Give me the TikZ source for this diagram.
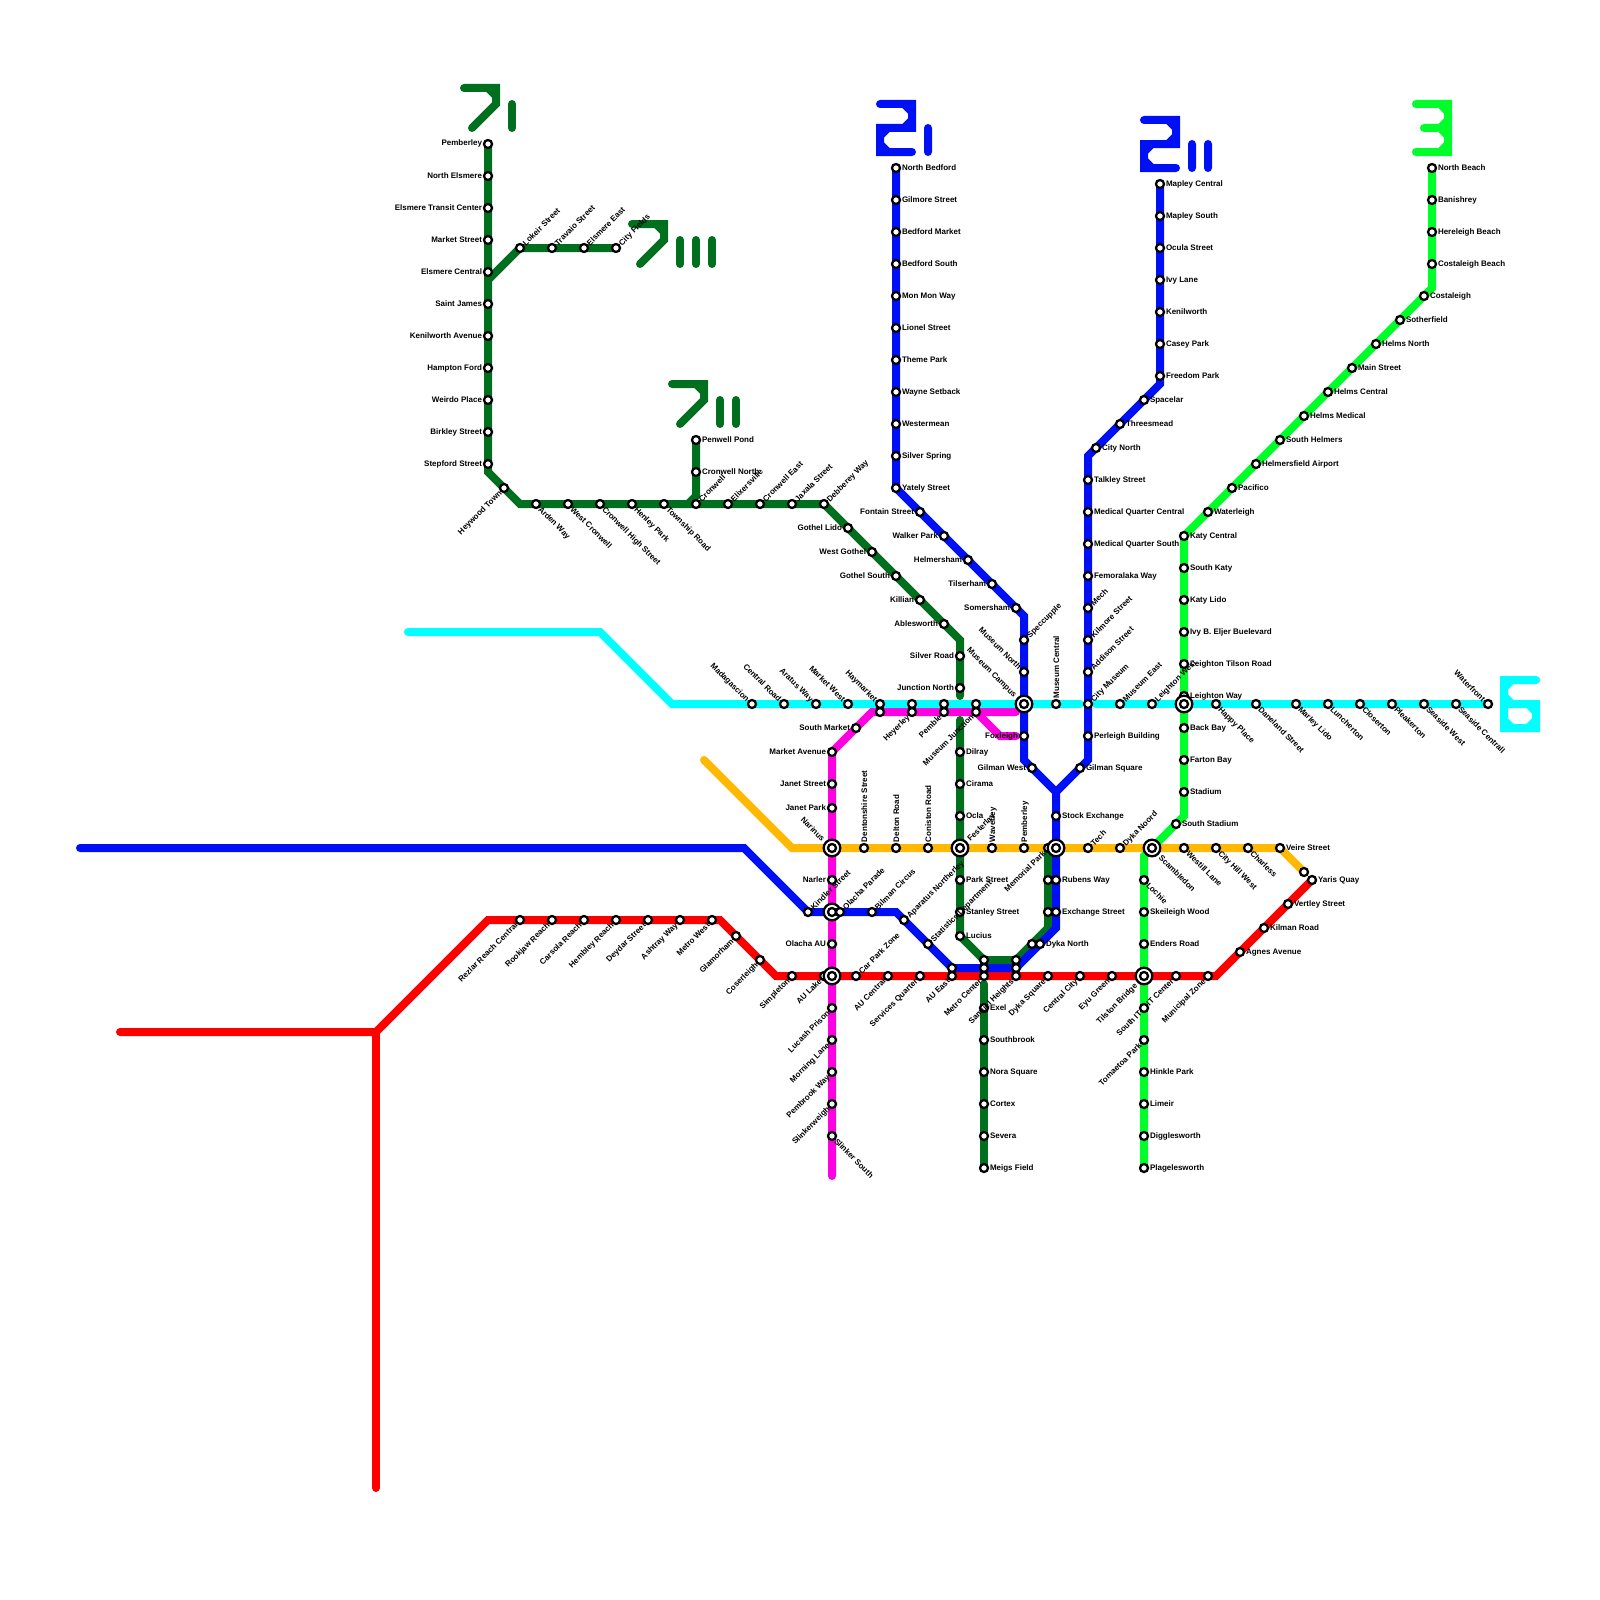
\documentclass[tikz,border=0pt]{standalone}
\usepackage{fontspec}
\setmainfont{Liberation Sans}
\pgfdeclarelayer{lines}
\pgfdeclarelayer{stations}
\pgfsetlayers{lines,stations,main}
\definecolor{cDG}{HTML}{00701F}
\definecolor{cBL}{HTML}{0010F5}
\definecolor{cBG}{HTML}{00FF2A}
\definecolor{cCY}{HTML}{00FFFF}
\definecolor{cMG}{HTML}{FF00E1}
\definecolor{cOR}{HTML}{FFB900}
\definecolor{cRD}{HTML}{FF0000}
\tikzset{
 stn/.style={circle,draw=black,fill=white,line width=2.3pt,minimum size=8pt,inner sep=0pt,outer sep=0pt},
 ring/.style={circle,draw=black,fill=white,line width=2.3pt,minimum size=16.6pt,inner sep=0pt,outer sep=0pt},
 lab/.style={inner sep=0pt,outer sep=0pt,text height=6pt,text depth=0pt,font=\fontsize{8}{9}\selectfont\bfseries,text=black},
 labR/.style={anchor=west,xshift=6pt,yshift=1pt},
 labL/.style={anchor=east,xshift=-6pt,yshift=1pt},
 labU/.style={rotate=90,anchor=west,xshift=6pt},
 labUR/.style={rotate=45,anchor=west,xshift=5.5pt},
 labUL/.style={rotate=-45,anchor=east,xshift=-5.5pt},
 labDL/.style={rotate=45,anchor=east,xshift=-5.5pt},
 labDR/.style={rotate=-45,anchor=west,xshift=5.5pt},
 route/.style={line width=8pt,line cap=round,line join=miter},
}
\newcommand\st[5]{\begin{pgfonlayer}{stations}\node[stn] (#2) at (#3,#4) {};\end{pgfonlayer}\node[lab,#1] (#2t) at (#3,#4) {#5};}
\newcommand\sn[3]{\begin{pgfonlayer}{stations}\node[stn] (#1) at (#2,#3) {};\end{pgfonlayer}}
\newcommand\ic[3]{\begin{pgfonlayer}{stations}\node[ring] (#1r) at (#2,#3) {};\node[stn] (#1) at (#2,#3) {};\end{pgfonlayer}}
\newcommand\icl[5]{\begin{pgfonlayer}{stations}\node[ring] (#2r) at (#3,#4) {};\node[stn] (#2) at (#3,#4) {};\end{pgfonlayer}\node[lab,#1] (#2t) at (#3,#4) {#5};}
\newcommand\seven[3]{\draw[route,cDG,shift={(#1,#2)}] (0,0)--(32,0)--(32,16)--(8,40) (24,0)--(32,8);
 \foreach \k in {1,...,#3}{\draw[route,cDG,shift={(#1,#2)}] (32+16*\k,16)--(32+16*\k,40);}}
\begin{document}
\begin{tikzpicture}[x=1pt,y=-1pt]
\useasboundingbox (0,0) rectangle (1600,1600);
%-- dark green 7
\st{labL}{a1}{488}{144}{Pemberley}
\st{labL}{a2}{488}{176}{North Elsmere}
\st{labL}{a3}{488}{208}{Elsmere Transit Center}
\st{labL}{a4}{488}{240}{Market Street}
\st{labL}{a5}{488}{272}{Elsmere Central}
\st{labL}{a6}{488}{304}{Saint James}
\st{labL}{a7}{488}{336}{Kenilworth Avenue}
\st{labL}{a8}{488}{368}{Hampton Ford}
\st{labL}{a9}{488}{400}{Weirdo Place}
\st{labL}{a10}{488}{432}{Birkley Street}
\st{labL}{a11}{488}{464}{Stepford Street}
\st{labUR}{b1}{520}{248}{Lokeir Street}
\st{labUR}{b2}{552}{248}{Travaio Street}
\st{labUR}{b3}{584}{248}{Elsmere East}
\st{labUR}{b4}{616}{248}{City Fields}
\st{labDL}{a12}{504}{488}{Heywood Town}
\st{labDR}{a13}{536}{504}{Arden Way}
\st{labDR}{a14}{568}{504}{West Cronwell}
\st{labDR}{a15}{600}{504}{Cronwell High Street}
\st{labDR}{a16}{632}{504}{Henley Park}
\st{labDR}{a17}{664}{504}{Township Road}
\st{labUR}{a18}{696}{504}{Cronwell}
\st{labUR}{a19}{728}{504}{Elixersville}
\st{labUR}{a20}{760}{504}{Cronwell East}
\st{labUR}{a21}{792}{504}{Jaxala Street}
\st{labUR}{a22}{824}{504}{Debberey Way}
\st{labR}{c1}{696}{440}{Penwell Pond}
\st{labR}{c2}{696}{472}{Cronwell North}
\st{labL}{a23}{848}{528}{Gothel Lido}
\st{labL}{a24}{872}{552}{West Gothel}
\st{labL}{a25}{896}{576}{Gothel South}
\st{labL}{a26}{920}{600}{Killian}
\st{labL}{a27}{944}{624}{Ablesworth}
\st{labL}{a28}{960}{656}{Silver Road}
\st{labL}{a29}{960}{688}{Junction North}
\st{labR}{d1}{960}{752}{Dilray}
\st{labR}{d2}{960}{784}{Cirama}
\st{labR}{d3}{960}{816}{Ocla}
\st{labR}{d4}{960}{880}{Park Street}
\st{labR}{d5}{960}{912}{Stanley Street}
\st{labR}{d6}{960}{936}{Lucius}
\sn{d7}{1048}{880}
\sn{d8}{1048}{912}
\sn{d9}{1032}{944}
\sn{d10}{1048}{848}
\st{labR}{e1}{984}{1008}{Exel}
\st{labR}{e2}{984}{1040}{Southbrook}
\st{labR}{e3}{984}{1072}{Nora Square}
\st{labR}{e4}{984}{1104}{Cortex}
\st{labR}{e5}{984}{1136}{Severa}
\st{labR}{e6}{984}{1168}{Meigs Field}
%-- blue 2i
\st{labR}{f1}{896}{168}{North Bedford}
\st{labR}{f2}{896}{200}{Gilmore Street}
\st{labR}{f3}{896}{232}{Bedford Market}
\st{labR}{f4}{896}{264}{Bedford South}
\st{labR}{f5}{896}{296}{Mon Mon Way}
\st{labR}{f6}{896}{328}{Lionel Street}
\st{labR}{f7}{896}{360}{Theme Park}
\st{labR}{f8}{896}{392}{Wayne Setback}
\st{labR}{f9}{896}{424}{Westermean}
\st{labR}{f10}{896}{456}{Silver Spring}
\st{labR}{f11}{896}{488}{Yately Street}
\st{labL}{f12}{920}{512}{Fontain Street}
\st{labL}{f13}{944}{536}{Walker Park}
\st{labL}{f14}{968}{560}{Helmersham}
\st{labL}{f15}{992}{584}{Tilserham}
\st{labL}{f16}{1016}{608}{Somersham}
\st{labUR}{f17}{1024}{640}{Speccupple}
\st{labUL}{f18}{1024}{672}{Museum North}
\st{labL}{f19}{1024}{736}{Foxleigh}
\st{labL}{f20}{1032}{768}{Gilman West}
\st{labR}{f21}{1056}{816}{Stock Exchange}
\st{labR}{f22}{1056}{880}{Rubens Way}
\st{labR}{f23}{1056}{912}{Exchange Street}
\st{labR}{f24}{1040}{944}{Dyka North}
%-- blue 2ii
\st{labR}{g1}{1160}{184}{Mapley Central}
\st{labR}{g2}{1160}{216}{Mapley South}
\st{labR}{g3}{1160}{248}{Ocula Street}
\st{labR}{g4}{1160}{280}{Ivy Lane}
\st{labR}{g5}{1160}{312}{Kenilworth}
\st{labR}{g6}{1160}{344}{Casey Park}
\st{labR}{g7}{1160}{376}{Freedom Park}
\st{labR}{g8}{1144}{400}{Spacelar}
\st{labR}{g9}{1120}{424}{Threesmead}
\st{labR}{g10}{1096}{448}{City North}
\st{labR}{g11}{1088}{480}{Talkley Street}
\st{labR}{g12}{1088}{512}{Medical Quarter Central}
\st{labR}{g13}{1088}{544}{Medical Quarter South}
\st{labR}{g14}{1088}{576}{Femoralaka Way}
\st{labUR}{g15}{1088}{608}{Mech}
\st{labUR}{g16}{1088}{640}{Kilmore Street}
\st{labUR}{g17}{1088}{672}{Addison Street}
\st{labUR}{g18}{1088}{704}{City Museum}
\st{labR}{g19}{1088}{736}{Perleigh Building}
\st{labR}{g20}{1080}{768}{Gilman Square}
%-- blue west
\st{labUR}{h1}{808}{912}{Kindler Street}
\st{labUR}{h3}{872}{912}{Bilman Circus}
\st{labUR}{h4}{904}{920}{Aparatus Northerley}
\st{labUR}{h5}{928}{944}{Statistics Department}
\sn{h6}{952}{968}
\sn{h7}{984}{968}
\sn{h8}{1016}{968}
\sn{h9}{984}{960}
\sn{h10}{1016}{960}
%-- bright green
\st{labR}{k1}{1432}{168}{North Beach}
\st{labR}{k2}{1432}{200}{Banishrey}
\st{labR}{k3}{1432}{232}{Hereleigh Beach}
\st{labR}{k4}{1432}{264}{Costaleigh Beach}
\st{labR}{k5}{1424}{296}{Costaleigh}
\st{labR}{k6}{1400}{320}{Sotherfield}
\st{labR}{k7}{1376}{344}{Helms North}
\st{labR}{k8}{1352}{368}{Main Street}
\st{labR}{k9}{1328}{392}{Helms Central}
\st{labR}{k10}{1304}{416}{Helms Medical}
\st{labR}{k11}{1280}{440}{South Helmers}
\st{labR}{k12}{1256}{464}{Helmersfield Airport}
\st{labR}{k13}{1232}{488}{Pacifico}
\st{labR}{k14}{1208}{512}{Waterleigh}
\st{labR}{k15}{1184}{536}{Katy Central}
\st{labR}{k16}{1184}{568}{South Katy}
\st{labR}{k17}{1184}{600}{Katy Lido}
\st{labR}{k18}{1184}{632}{Ivy B. Eljer Buelevard}
\st{labR}{k19}{1184}{664}{Leighton Tilson Road}
\st{labR}{k20}{1184}{696}{Leighton Way}
\st{labR}{k21}{1184}{728}{Back Bay}
\st{labR}{k22}{1184}{760}{Farton Bay}
\st{labR}{k23}{1184}{792}{Stadium}
\st{labR}{k24}{1176}{824}{South Stadium}
\st{labDR}{k25}{1144}{880}{Lochie}
\st{labR}{k26}{1144}{912}{Skeileigh Wood}
\st{labR}{k27}{1144}{944}{Enders Road}
\st{labDL}{k28}{1144}{1008}{South IT}
\st{labDL}{k29}{1144}{1040}{Tomaetoa Park}
\st{labR}{k30}{1144}{1072}{Hinkle Park}
\st{labR}{k31}{1144}{1104}{Limeir}
\st{labR}{k32}{1144}{1136}{Digglesworth}
\st{labR}{k33}{1144}{1168}{Plagelesworth}
%-- cyan
\st{labUL}{m1}{752}{704}{Madagascion}
\st{labUL}{m2}{784}{704}{Central Road}
\st{labUL}{m3}{816}{704}{Aratus Way}
\st{labUL}{m4}{848}{704}{Market West}
\st{labUL}{m5}{880}{704}{Haymarket}
\sn{m6}{912}{704}
\sn{m7}{944}{704}
\sn{m8}{976}{704}
\st{labU}{m9}{1056}{704}{Museum Central}
\st{labUR}{m10}{1120}{704}{Museum East}
\st{labUR}{m11}{1152}{704}{Leighton West}
\st{labDR}{m12}{1216}{704}{Happy Place}
\st{labDR}{m13}{1256}{704}{Daneland Street}
\st{labDR}{m14}{1296}{704}{Marley Lido}
\st{labDR}{m15}{1328}{704}{Luncherton}
\st{labDR}{m16}{1360}{704}{Closerton}
\st{labDR}{m17}{1392}{704}{Pleakerton}
\st{labDR}{m18}{1424}{704}{Seaside West}
\st{labDR}{m19}{1456}{704}{Seaside Centrall}
\st{labUL}{m20}{1488}{704}{Waterfront}
%-- magenta
\sn{n1}{880}{712}
\st{labDL}{n2}{912}{712}{Heyerley}
\st{labDL}{n3}{944}{712}{Pemble}
\st{labDL}{n4}{976}{712}{Museum Junction}
\st{labL}{n5}{856}{728}{South Market}
\st{labL}{n6}{832}{752}{Market Avenue}
\st{labL}{n7}{832}{784}{Janet Street}
\st{labL}{n8}{832}{808}{Janet Park}
\st{labL}{n9}{832}{880}{Narler}
\st{labL}{n10}{832}{944}{Olacha AU}
\st{labDL}{n11}{832}{1008}{Lucash Prison}
\st{labDL}{n12}{832}{1040}{Morning Lane}
\st{labDL}{n13}{832}{1072}{Pembrook Way}
\st{labDL}{n14}{832}{1104}{Slinkerweigh}
\st{labDR}{n15}{832}{1136}{Slinker South}
%-- orange
\st{labU}{o1}{864}{848}{Dentonshire Street}
\st{labU}{o2}{896}{848}{Delton Road}
\st{labU}{o3}{928}{848}{Coniston Road}
\st{labU}{o4}{992}{848}{Waverley}
\st{labU}{o5}{1024}{848}{Pemberley}
\st{labUR}{o6}{1088}{848}{Tech}
\st{labUR}{o7}{1120}{848}{Dyka Noord}
\st{labDR}{o8}{1184}{848}{Westill Lane}
\st{labDR}{o9}{1216}{848}{City Hill West}
\st{labDR}{o10}{1248}{848}{Charless}
\st{labR}{o11}{1280}{848}{Veire Street}
\sn{o12}{1304}{872}
%-- red
\st{labDL}{r1}{520}{920}{Rezlar Reach Central}
\st{labDL}{r2}{552}{920}{Rookjaw Reach}
\st{labDL}{r3}{584}{920}{Carsola Reach}
\st{labDL}{r4}{616}{920}{Hembley Reach}
\st{labDL}{r5}{648}{920}{Deydar Street}
\st{labDL}{r6}{680}{920}{Ashtray Way}
\st{labDL}{r7}{712}{920}{Metro West}
\st{labDL}{r8}{736}{936}{Glamorham}
\st{labDL}{r9}{760}{960}{Coserleigh}
\st{labDL}{r10}{792}{976}{Simpleton}
\st{labDL}{r11}{824}{976}{AU Lake}
\st{labDL}{r13}{888}{976}{AU Central}
\st{labDL}{r14}{920}{976}{Services Quarter}
\st{labDL}{r15}{952}{976}{AU East}
\st{labDL}{r16}{984}{976}{Metro Center}
\st{labDL}{r17}{1016}{976}{Samuel Heights}
\st{labDL}{r18}{1048}{976}{Dyka Square}
\st{labDL}{r19}{1080}{976}{Central City}
\st{labDL}{r20}{1112}{976}{Eyu Green}
\st{labDL}{r21}{1176}{976}{IT Center}
\st{labDL}{r22}{1208}{976}{Municipal Zone}
\st{labR}{r23}{1240}{952}{Agnes Avenue}
\st{labR}{r24}{1264}{928}{Kilman Road}
\st{labR}{r25}{1288}{904}{Vertley Street}
\st{labR}{r26}{1312}{880}{Yaris Quay}
%-- interchanges
\icl{labUL,xshift=-6.5pt}{x1}{1024}{704}{Museum Campus}
\icl{labDR,xshift=6.5pt}{x2}{1152}{848}{Scambledon}
\ic{x3}{1184}{704}
\icl{labUL,xshift=-6.5pt}{x4}{832}{848}{Narinus}
\icl{labUR,xshift=6.5pt}{x5}{960}{848}{Festerlay}
\ic{x6}{1056}{848}
\ic{x7}{832}{912}
\ic{x8}{832}{976}
\icl{labDL,xshift=-6.5pt}{x9}{1144}{976}{Tilston Bridge}
\st{labUR}{h2}{840}{912}{Olacha Parade}
\st{labUR}{r12}{856}{976}{Car Park Zone}
\node[lab,labDL] (d10t) at (d10) {Memorial Park};
%-- routes
\coordinate (p1) at (520,504); \coordinate (p2) at (488,472); \coordinate (p3) at (960,640);
\coordinate (p4) at (960,696); \coordinate (p5) at (488,280); \coordinate (p6) at (696,496);
\coordinate (p7) at (688,504); \coordinate (p8) at (960,720); \coordinate (p9) at (984,960);
\coordinate (p10) at (1016,960); \coordinate (p11) at (1048,928); \coordinate (p12) at (984,984);
\coordinate (q1) at (1024,616); \coordinate (q2) at (1024,760); \coordinate (q3) at (1056,792);
\coordinate (q4) at (1056,928); \coordinate (q5) at (1016,968); \coordinate (q6) at (1160,384);
\coordinate (q7) at (1088,456); \coordinate (q8) at (1088,760); \coordinate (q9) at (80,848);
\coordinate (q10) at (744,848); \coordinate (q11) at (896,912); \coordinate (q12) at (952,968);
\coordinate (u1) at (1432,288); \coordinate (u2) at (1184,816); \coordinate (u3) at (1144,856);
\coordinate (v1) at (408,632); \coordinate (v2) at (600,632); \coordinate (v3) at (672,704);
\coordinate (v4) at (1080,704); \coordinate (v5) at (1096,704);
\coordinate (w1) at (1016,712); \coordinate (w2) at (872,712); \coordinate (w3) at (832,752);
\coordinate (w4) at (832,1176); \coordinate (w5) at (1000,736); \coordinate (w6) at (1016,736);
\coordinate (y1) at (704,760); \coordinate (y2) at (792,848);
\coordinate (z1) at (120,1032); \coordinate (z2) at (376,1032); \coordinate (z3) at (488,920);
\coordinate (z4) at (720,920); \coordinate (z5) at (776,976); \coordinate (z6) at (1216,976);
\coordinate (z7) at (376,1488);
\begin{pgfonlayer}{lines}
\fill[white] (0,0) rectangle (1600,1600);
\draw[route,cOR] (y1)--(y2)--(o11.center)--(o12.center);
\draw[route,cRD] (z1)--(z2)--(z3)--(z4)--(z5)--(z6)--(r26.center);
\draw[route,cRD] (z2)--(z7);
\draw[route,cMG] (w1)--(w2)--(w3)--(w4);
\draw[route,cMG] (n4.center)--(w5)--(w6);
\draw[route,cBG] (k1.center)--(u1)--(k15.center)--(u2)--(u3)--(k33.center);
\draw[route,cCY] (v1)--(v2)--(v3)--(v4);
\draw[route,cCY] (v5)--(m20.center);
\draw[route,cDG] (a1.center)--(p2)--(p1)--(a22.center)--(p3)--(p4);
\draw[route,cDG] (p5)--(b1.center)--(b4.center);
\draw[route,cDG] (c1.center)--(p6)--(p7);
\draw[route,cDG] (p8)--(d6.center)--(p9)--(p10)--(p11)--(d10.center);
\draw[route,cDG] (p12)--(e6.center);
\draw[route,cBL] (f1.center)--(f11.center)--(q1)--(q2)--(q3)--(q4)--(q5)--(q12)--(q11)--(h1.center)--(q10)--(q9);
\draw[route,cBL] (g1.center)--(q6)--(q7)--(q8)--(q3);
%-- route numerals
\seven{464}{88}{1}
\seven{632}{224}{3}
\seven{672}{384}{2}
\draw[route,cBL] (880,104)--(912,104)--(912,128)--(880,128)--(880,152)--(912,152)
 (904,104)--(912,112) (912,120)--(904,128) (888,128)--(880,136) (880,144)--(888,152)
 (928,128)--(928,152);
\draw[route,cBL] (1144,120)--(1176,120)--(1176,144)--(1144,144)--(1144,168)--(1176,168)
 (1168,120)--(1176,128) (1176,136)--(1168,144) (1152,144)--(1144,152) (1144,160)--(1152,168)
 (1192,144)--(1192,168) (1208,144)--(1208,168);
\draw[route,cBG] (1416,104)--(1448,104)--(1448,152)--(1416,152) (1424,128)--(1448,128)
 (1440,104)--(1448,112) (1448,120)--(1440,128) (1440,128)--(1448,136) (1448,144)--(1440,152);
\draw[route,cCY] (1536,680)--(1504,680)--(1504,728)--(1536,728)--(1536,704)--(1504,704)
 (1504,688)--(1512,680) (1504,696)--(1512,704) (1504,720)--(1512,728) (1528,728)--(1536,720) (1536,712)--(1528,704);
\end{pgfonlayer}
\end{tikzpicture}
\end{document}
